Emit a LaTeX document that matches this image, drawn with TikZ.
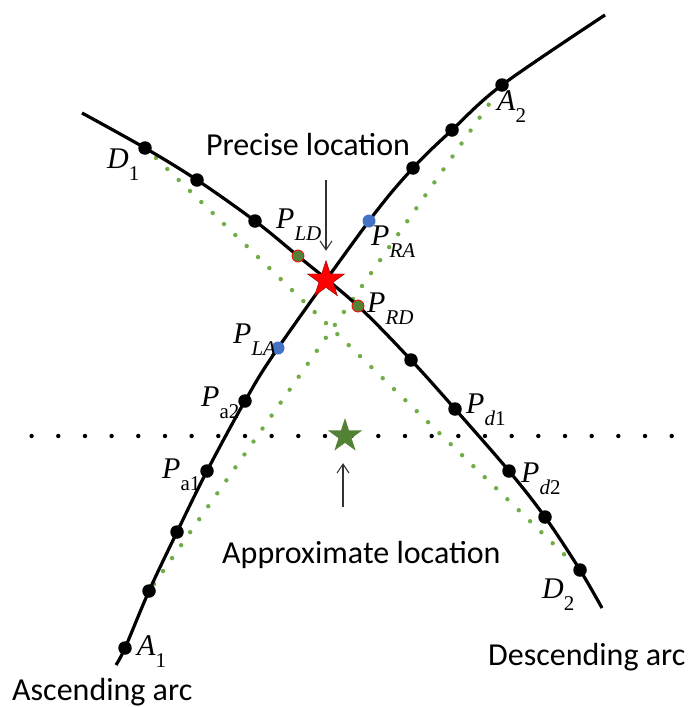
\documentclass[tikz,border=0pt]{standalone}
\usepackage{fontspec}
\setmainfont{Liberation Serif}
\newfontfamily\calib{Carlito}
\usetikzlibrary{shapes.geometric,arrows.meta}
\definecolor{lgreen}{HTML}{70AD47}
\definecolor{dgreen}{HTML}{548235}
\definecolor{mblue}{HTML}{4472C4}
\newcommand\lab[2]{{\fontsize{30}{30}\selectfont\textit{#1}\raisebox{-12pt}{\fontsize{21}{21}\selectfont #2}}}
\tikzset{
  arcline/.style={line width=3.2pt, line join=round},
  bdot/.style={circle, fill=black, minimum size=13.5pt, inner sep=0pt},
  bluedot/.style={circle, fill=mblue, minimum size=13pt, inner sep=0pt},
  gdot/.style={circle, fill=dgreen, draw=red, line width=0.8pt, minimum size=12pt, inner sep=0pt},
  gline/.style={lgreen, line width=4.4pt, line cap=round, dash pattern=on 0pt off 15.8pt},
  rowline/.style={black, line width=4.4pt, line cap=round, dash pattern=on 0pt off 26.67pt},
  lbl/.style={anchor=base west, inner sep=0pt},
  txt/.style={font={\calib\fontsize{32}{32}\selectfont}, inner sep=0pt, anchor=base west},
  pointer/.style={line width=1.1pt, draw=black!80, -{Straight Barb[length=9pt,width=12pt]}},
}
\begin{document}
\begin{tikzpicture}[x=1pt,y=-1pt]
\useasboundingbox (0,0) rectangle (694,707);
% ascending arc points
\coordinate (a0) at (116,665);
\coordinate (a1) at (125,648);
\coordinate (a2) at (149,591);
\coordinate (a3) at (177,532);
\coordinate (a4) at (207,471);
\coordinate (a5) at (245,401);
\coordinate (a6) at (278,348);
\coordinate (a7) at (369,221);
\coordinate (a8) at (413,168);
\coordinate (a9) at (452,130);
\coordinate (a10) at (502,85);
\coordinate (a11) at (605,15);
% descending arc points
\coordinate (d0) at (82,113);
\coordinate (d1) at (145,148);
\coordinate (d2) at (197,180);
\coordinate (d3) at (255,221);
\coordinate (d4) at (298,256);
\coordinate (d5) at (358,306);
\coordinate (d6) at (411,360);
\coordinate (d7) at (455,409);
\coordinate (d8) at (509,471);
\coordinate (d9) at (545,517);
\coordinate (d10) at (580,570);
\coordinate (d11) at (602,608);
% green chord ends
\coordinate (ga1) at (154,584);
\coordinate (ga2) at (494,97);
\coordinate (gd1) at (156,158);
\coordinate (gd2) at (570,560);
% dotted row ends
\coordinate (r1) at (31.6,436);
\coordinate (r2) at (672.1,436);

% green dotted chords
\draw[gline] (ga1) -- (ga2);
\draw[gline] (gd1) -- (gd2);

% arcs
\draw[arcline] plot[smooth, tension=0.55] coordinates {(a0) (a1) (a2) (a3) (a4) (a5) (a6) (a7) (a8) (a9) (a10) (a11)};
\draw[arcline] plot[smooth, tension=0.55] coordinates {(d0) (d1) (d2) (d3) (d4) (d5) (d6) (d7) (d8) (d9) (d10) (d11)};

% dotted row
\draw[rowline] (r1) -- (r2);

% dots
\node[bdot] (A1) at (a1) {};
\node[bdot] (n2) at (a2) {};
\node[bdot] (n3) at (a3) {};
\node[bdot] (Pa1) at (a4) {};
\node[bdot] (Pa2) at (a5) {};
\node[bluedot] (PLA) at (a6) {};
\node[bluedot] (PRA) at (a7) {};
\node[bdot] (n8) at (a8) {};
\node[bdot] (n9) at (a9) {};
\node[bdot] (A2) at (a10) {};
\node[bdot] (D1) at (d1) {};
\node[bdot] (m2) at (d2) {};
\node[bdot] (m3) at (d3) {};
\node[gdot] (PLD) at (d4) {};
\node[gdot] (PRD) at (d5) {};
\node[bdot] (m6) at (d6) {};
\node[bdot] (Pd1) at (d7) {};
\node[bdot] (Pd2) at (d8) {};
\node[bdot] (m9) at (d9) {};
\node[bdot] (D2) at (d10) {};

% stars
\node[star, star points=5, star point ratio=2.618, minimum size=39pt, inner sep=0pt,
      fill=red, draw=red!55!black, line width=0.4pt] (ps) at (326,280) {};
\node[star, star points=5, star point ratio=2.618, minimum size=36pt, inner sep=0pt,
      fill=dgreen] (gs) at (345,436) {};

% text
\node[txt] (prec) at (206,155) {Precise location};
\node[txt] (appr) at (222,563) {Approximate location};
\node[txt] (desc) at (488,665) {Descending arc};
\node[txt] (asc) at (12,700) {Ascending arc};

% pointers
\coordinate (pt) at (326,180);
\draw[pointer, shorten >=9pt] (pt) -- (ps.north);
\coordinate (pb) at (343,507);
\draw[pointer, shorten >=20pt] (pb) -- (pb |- gs.south);

% labels
\node[lbl] (lD1) at (107,168) {\lab{D}{1}};
\node[lbl] (lPLD) at (276,228) {\lab{P}{\textit{LD}}};
\node[lbl] (lPRA) at (371,245) {\lab{P}{\textit{RA}}};
\node[lbl] (lPRD) at (367,312) {\lab{P}{\textit{RD}}};
\node[lbl] (lPLA) at (233,343) {\lab{P}{\textit{LA}}};
\node[lbl] (lPa2) at (201,406) {\lab{P}{a2}};
\node[lbl] (lPa1) at (162,478) {\lab{P}{a1}};
\node[lbl] (lPd1) at (466,413) {\lab{P}{\textit{d}1}};
\node[lbl] (lPd2) at (521,482) {\lab{P}{\textit{d}2}};
\node[lbl] (lD2) at (542,598) {\lab{D}{2}};
\node[lbl] (lA1) at (137,655) {\lab{A}{1}};
\node[lbl] (lA2) at (497,110) {\lab{A}{2}};
\end{tikzpicture}
\end{document}
